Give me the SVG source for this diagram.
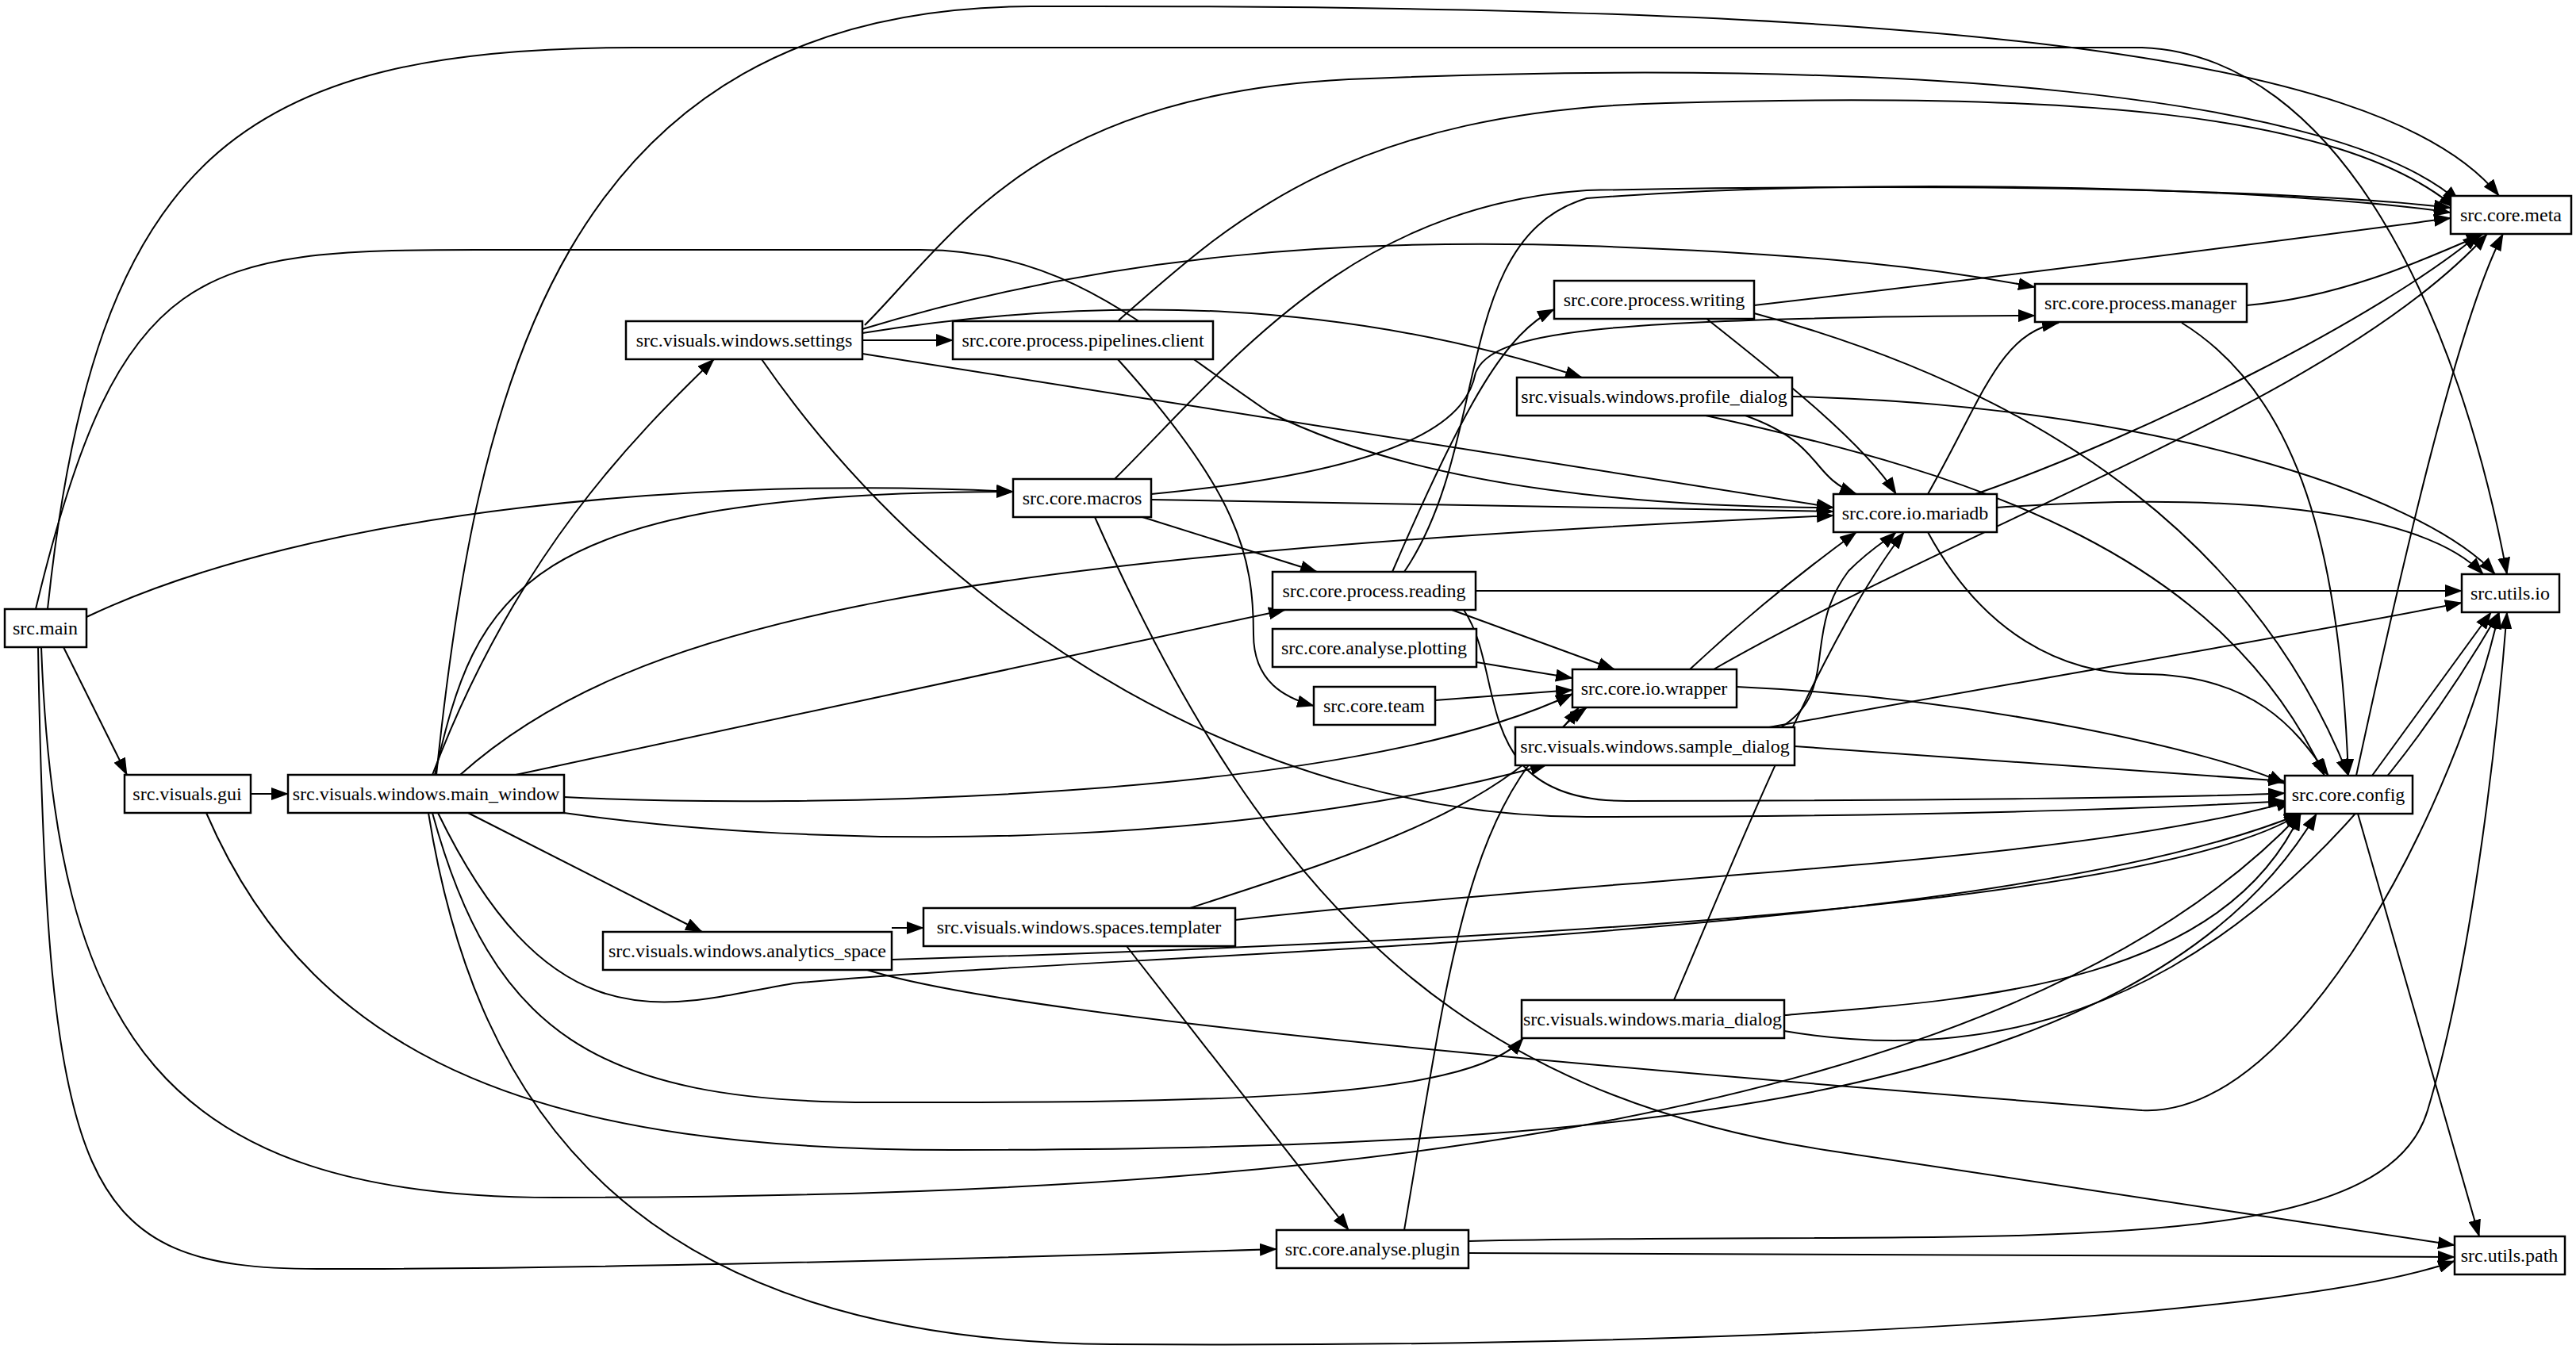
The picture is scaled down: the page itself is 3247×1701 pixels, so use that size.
<svg xmlns="http://www.w3.org/2000/svg" width="3247" height="1701" viewBox="0 0 3247 1701">
<style>
.n rect{fill:#fff;stroke:#000;stroke-width:2.5}
.n text{font-family:"Liberation Serif",serif;font-size:24px;text-anchor:middle;dominant-baseline:central;fill:#000}
#edges path{fill:none;stroke:#000;stroke-width:2;marker-end:url(#a)}
</style>
<defs><marker id="a" markerUnits="userSpaceOnUse" markerWidth="22" markerHeight="16" refX="21" refY="8" orient="auto"><path d="M0,0 L22,8 L0,16 Z" fill="#000"/></marker></defs>
<rect width="3247" height="1701" fill="#fff"/>
<g id="edges">
<path d="M80,816 L160,977"/>
<path d="M109,778 C400,640 900,600 1277,620"/>
<path d="M60,768 C120,200 300,60 800,60 C1600,60 2400,60 2700,60 C2950,70 3100,400 3160,724"/>
<path d="M45,768 C150,330 250,315 600,315 L1160,315 C1350,315 1450,420 1600,520 C1800,620 2100,640 2311,640"/>
<path d="M52,816 C70,1300 200,1510 700,1510 C1500,1510 2500,1450 2900,1026"/>
<path d="M48,816 C60,1500 100,1600 400,1600 C800,1600 1300,1585 1609,1575"/>
<path d="M316,1001 L363,1001"/>
<path d="M260,1025 C400,1350 700,1450 1200,1450 C2000,1450 2700,1400 2920,1026"/>
<path d="M550,977 C600,500 700,10 1300,8 C2400,5 3000,60 3150,247"/>
<path d="M545,977 C650,700 800,550 900,453"/>
<path d="M548,977 C600,750 650,620 1277,620"/>
<path d="M580,977 C800,780 1200,700 2311,650"/>
<path d="M650,977 L1620,769"/>
<path d="M711,1005 C1000,1020 1700,1010 1982,875"/>
<path d="M711,1025 C1100,1080 1600,1060 1950,964"/>
<path d="M590,1025 L885,1175"/>
<path d="M552,1025 C700,1330 850,1265 1000,1240 C1400,1200 2500,1190 2900,1026"/>
<path d="M545,1025 C620,1300 750,1390 1100,1390 C1500,1390 1850,1390 1920,1309"/>
<path d="M540,1025 C600,1400 800,1690 1400,1695 C2200,1700 2900,1660 3094,1590"/>
<path d="M1087,429 L1201,429"/>
<path d="M1090,410 C1200,300 1300,120 1700,100 C2400,70 2950,120 3100,255"/>
<path d="M1087,415 C1400,320 1700,300 2000,310 C2300,320 2450,340 2565,362"/>
<path d="M1087,420 C1400,370 1700,380 1994,476"/>
<path d="M1087,446 L2311,640"/>
<path d="M960,453 C1200,800 1600,1030 2000,1030 C2500,1030 2800,1015 2880,1010"/>
<path d="M1410,404 C1550,280 1700,140 2100,130 C2600,115 2950,140 3095,262"/>
<path d="M1408,452 C1560,620 1580,700 1580,800 C1580,860 1620,880 1656,890"/>
<path d="M1405,604 C1550,460 1700,260 2000,240 C2500,230 2900,240 3089,262"/>
<path d="M1451,623 C1800,590 1850,520 1860,470 C1880,420 2000,400 2565,398"/>
<path d="M1451,630 L2311,645"/>
<path d="M1440,652 L1660,721"/>
<path d="M1380,652 C1600,1150 1850,1380 2300,1450 C2700,1510 2950,1550 3094,1570"/>
<path d="M1755,721 C1850,500 1900,420 1959,390"/>
<path d="M1770,721 C1880,560 1830,300 2000,250 C2400,220 2900,240 3089,268"/>
<path d="M1860,745 L3103,745"/>
<path d="M1830,769 L2035,844"/>
<path d="M1845,769 C1900,850 1850,1010 2050,1010 C2400,1010 2800,1005 2880,1000"/>
<path d="M1861,835 L1982,855"/>
<path d="M1809,883 L1982,870"/>
<path d="M2211,385 C2600,340 2900,300 3089,275"/>
<path d="M2150,401 C2250,480 2350,560 2390,623"/>
<path d="M2211,395 C2600,500 2850,700 2960,978"/>
<path d="M2832,385 C2950,375 3050,330 3130,295"/>
<path d="M2750,407 C2900,500 2950,700 2960,978"/>
<path d="M2259,500 C2700,510 3050,620 3145,724"/>
<path d="M2200,524 C2300,560 2280,600 2340,623"/>
<path d="M2150,524 C2500,600 2800,700 2930,978"/>
<path d="M2430,623 C2500,500 2520,420 2595,407"/>
<path d="M2490,623 C2700,550 3000,400 3125,295"/>
<path d="M2517,640 C2800,620 3050,640 3130,724"/>
<path d="M2430,671 C2500,800 2600,850 2700,850 C2850,850 2900,930 2935,978"/>
<path d="M2130,844 C2220,760 2300,700 2340,671"/>
<path d="M2160,844 C2500,650 2950,500 3135,295"/>
<path d="M2189,866 C2500,880 2800,950 2880,988"/>
<path d="M2230,917 C2600,850 2900,800 3103,760"/>
<path d="M2245,917 C2320,870 2270,800 2330,720 C2360,690 2380,680 2390,671"/>
<path d="M2262,941 L2880,985"/>
<path d="M2970,978 C3030,700 3100,400 3155,295"/>
<path d="M2990,978 L3140,772"/>
<path d="M2972,1026 L3125,1559"/>
<path d="M1124,1170 L1164,1170"/>
<path d="M1124,1210 C1800,1190 2700,1150 2900,1026"/>
<path d="M1090,1222 C1300,1290 2200,1360 2700,1400 C2900,1410 3100,1000 3150,772"/>
<path d="M1500,1145 C1700,1080 1900,1020 1990,892"/>
<path d="M1557,1160 C2100,1100 2600,1090 2890,1010"/>
<path d="M1420,1193 L1700,1551"/>
<path d="M2110,1261 C2200,1050 2300,800 2400,671"/>
<path d="M2249,1280 C2500,1260 2800,1240 2900,1026"/>
<path d="M2249,1300 C2600,1360 2900,1200 3150,772"/>
<path d="M1770,1551 C1830,1200 1850,1000 2000,892"/>
<path d="M1851,1565 C2500,1550 3000,1600 3060,1400 C3120,1200 3150,900 3160,772"/>
<path d="M1851,1580 L3094,1585"/>
</g>
<g id="main" class="n"><rect x="6" y="768" width="103" height="48"/><text x="57" y="792">src.main</text></g>
<g id="gui" class="n"><rect x="157" y="977" width="159" height="48"/><text x="236" y="1001">src.visuals.gui</text></g>
<g id="main_window" class="n"><rect x="363" y="977" width="348" height="48"/><text x="537" y="1001">src.visuals.windows.main_window</text></g>
<g id="settings" class="n"><rect x="789" y="405" width="298" height="48"/><text x="938" y="429">src.visuals.windows.settings</text></g>
<g id="pipelines_client" class="n"><rect x="1201" y="405" width="328" height="48"/><text x="1365" y="429">src.core.process.pipelines.client</text></g>
<g id="macros" class="n"><rect x="1277" y="604" width="174" height="48"/><text x="1364" y="628">src.core.macros</text></g>
<g id="writing" class="n"><rect x="1959" y="354" width="252" height="48"/><text x="2085" y="378">src.core.process.writing</text></g>
<g id="manager" class="n"><rect x="2565" y="358" width="267" height="48"/><text x="2698" y="382">src.core.process.manager</text></g>
<g id="profile_dialog" class="n"><rect x="1912" y="476" width="347" height="48"/><text x="2085" y="500">src.visuals.windows.profile_dialog</text></g>
<g id="mariadb" class="n"><rect x="2311" y="623" width="206" height="48"/><text x="2414" y="647">src.core.io.mariadb</text></g>
<g id="meta" class="n"><rect x="3089" y="247" width="152" height="48"/><text x="3165" y="271">src.core.meta</text></g>
<g id="reading" class="n"><rect x="1604" y="721" width="256" height="48"/><text x="1732" y="745">src.core.process.reading</text></g>
<g id="utils_io" class="n"><rect x="3103" y="724" width="123" height="48"/><text x="3164" y="748">src.utils.io</text></g>
<g id="plotting" class="n"><rect x="1604" y="793" width="257" height="48"/><text x="1732" y="817">src.core.analyse.plotting</text></g>
<g id="wrapper" class="n"><rect x="1982" y="844" width="207" height="48"/><text x="2085" y="868">src.core.io.wrapper</text></g>
<g id="team" class="n"><rect x="1656" y="866" width="153" height="48"/><text x="1732" y="890">src.core.team</text></g>
<g id="sample_dialog" class="n"><rect x="1910" y="917" width="352" height="48"/><text x="2086" y="941">src.visuals.windows.sample_dialog</text></g>
<g id="config" class="n"><rect x="2880" y="978" width="161" height="48"/><text x="2960" y="1002">src.core.config</text></g>
<g id="analytics_space" class="n"><rect x="760" y="1175" width="364" height="48"/><text x="942" y="1199">src.visuals.windows.analytics_space</text></g>
<g id="templater" class="n"><rect x="1164" y="1145" width="393" height="48"/><text x="1360" y="1169">src.visuals.windows.spaces.templater</text></g>
<g id="maria_dialog" class="n"><rect x="1918" y="1261" width="331" height="48"/><text x="2083" y="1285">src.visuals.windows.maria_dialog</text></g>
<g id="plugin" class="n"><rect x="1609" y="1551" width="242" height="48"/><text x="1730" y="1575">src.core.analyse.plugin</text></g>
<g id="path" class="n"><rect x="3094" y="1559" width="139" height="48"/><text x="3163" y="1583">src.utils.path</text></g>
</svg>
